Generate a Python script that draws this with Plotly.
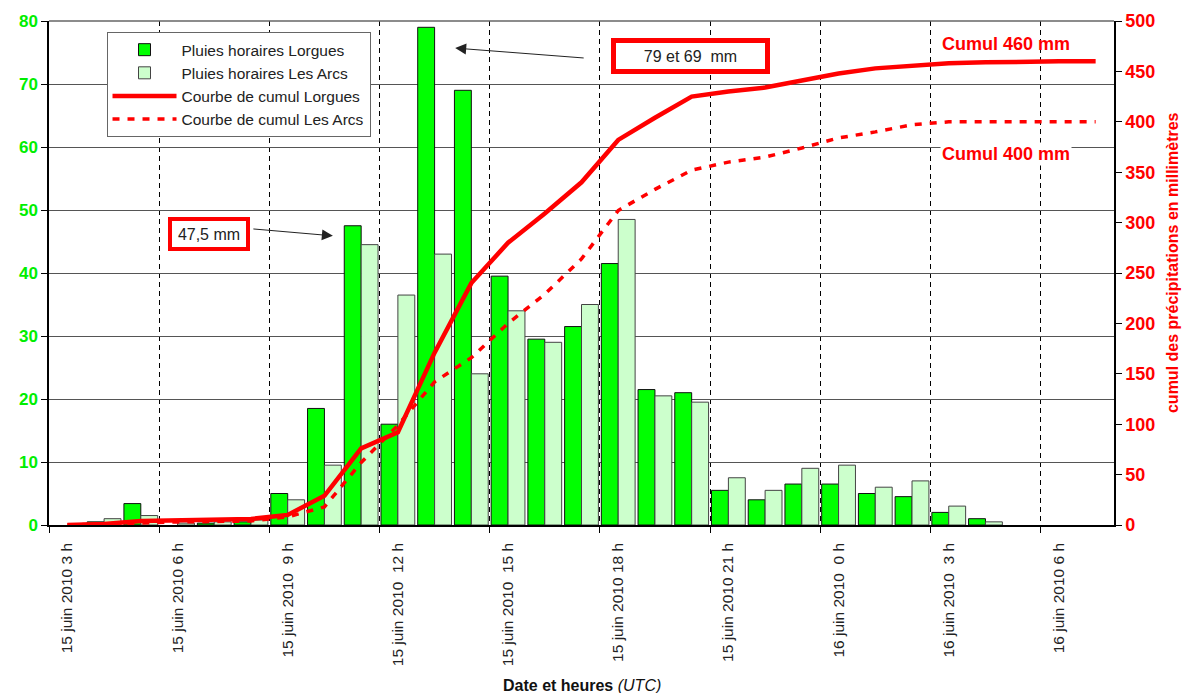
import plotly.graph_objects as go

# Hourly categories (15 juin 2010 3h -> 16 juin 2010 7h)
heures = ["15/06 03h", "15/06 04h", "15/06 05h", "15/06 06h", "15/06 07h", "15/06 08h",
          "15/06 09h", "15/06 10h", "15/06 11h", "15/06 12h", "15/06 13h", "15/06 14h",
          "15/06 15h", "15/06 16h", "15/06 17h", "15/06 18h", "15/06 19h", "15/06 20h",
          "15/06 21h", "15/06 22h", "15/06 23h", "16/06 00h", "16/06 01h", "16/06 02h",
          "16/06 03h", "16/06 04h", "16/06 05h", "16/06 06h", "16/06 07h"]

pluie_lorgues = [0, 0.5, 3.4, 0, 0.3, 0.5, 5, 18.5, 47.5, 16, 79, 69, 39.5, 29.5, 31.5,
                 41.5, 21.5, 21, 5.5, 4, 6.5, 6.5, 5, 4.5, 2, 1, 0, 0, 0]
pluie_arcs = [0, 1.0, 1.5, 0.3, 0.5, 0.8, 4, 9.5, 44.5, 36.5, 43, 24, 34, 29, 35,
              48.5, 20.5, 19.5, 7.5, 5.5, 9, 9.5, 6, 7, 3, 0.5, 0, 0, 0]

cumul_lorgues = [0, 1, 4, 4.5, 5, 6, 10, 29, 76, 92, 171, 240, 280, 309, 340,
                 382, 404, 425, 430, 434, 441, 448, 453, 456, 458, 459, 460, 460, 460]
cumul_arcs = [0, 1, 2.5, 3, 3.5, 4, 8, 18, 62, 99, 142, 166, 200, 229, 264,
              312, 333, 352, 360, 365, 374, 384, 390, 397, 400, 400, 400, 400, 400]

tick_pos = [0, 3, 6, 9, 12, 15, 18, 21, 24, 27]
tick_text = ["15 juin 2010 3 h", "15 juin 2010 6 h", "15 juin 2010\u00a0\u00a09 h",
             "15 juin 2010\u00a0\u00a012 h", "15 juin 2010\u00a0\u00a015 h", "15 juin 2010 18 h",
             "15 juin 2010 21 h", "16 juin 2010\u00a0\u00a00 h", "16 juin 2010\u00a0\u00a03 h",
             "16 juin 2010 6 h"]

x = list(range(len(heures)))
FONT = "Liberation Sans, Arial, sans-serif"


def no_zero(values):
    return [v if v > 0 else None for v in values]


fig = go.Figure()
fig.add_trace(go.Bar(x=x, y=no_zero(pluie_lorgues), name="Pluies horaires Lorgues",
                     marker=dict(color="#00FF00", line=dict(color="#111111", width=1))))
fig.add_trace(go.Bar(x=x, y=no_zero(pluie_arcs), name="Pluies horaires Les Arcs",
                     marker=dict(color="#CCFFCC", line=dict(color="#444444", width=1))))
fig.add_trace(go.Scatter(x=x, y=cumul_lorgues, name="Courbe de cumul Lorgues", yaxis="y2",
                         mode="lines", line=dict(color="#FF0000", width=4.5)))
fig.add_trace(go.Scatter(x=x, y=cumul_arcs, name="Courbe de cumul Les Arcs", yaxis="y2",
                         mode="lines", line=dict(color="#FF0000", width=3.5, dash="7px,8px")))

fig.update_layout(
    width=1182, height=685,
    margin=dict(l=41, r=76, t=13, b=168, autoexpand=False),
    paper_bgcolor="white", plot_bgcolor="white",
    font=dict(family=FONT, size=13, color="#222222"),
    barmode="group", bargap=0.08, bargroupgap=0,
    showlegend=True,
    legend=dict(x=0.054, y=0.978, xanchor="left", yanchor="top",
                bgcolor="white", bordercolor="#666666", borderwidth=1,
                font=dict(family=FONT, size=15.5, color="#222222"),
                itemwidth=64, tracegroupgap=0),
    xaxis=dict(range=[-0.5, 28.5], tickmode="array", tickvals=tick_pos, ticktext=tick_text,
               tickangle=-90, ticks="", showgrid=False, zeroline=False, automargin=False,
               showline=True, linecolor="black", linewidth=1.5,
               ticklabelstandoff=10,
               tickfont=dict(family=FONT, size=15.5, color="#222222"),
               minor=dict(tickmode="linear", tick0=-0.5, dtick=3, ticks="outside",
                          ticklen=6, tickcolor="black", tickwidth=1,
                          showgrid=True, gridcolor="black", gridwidth=1, griddash="5px,4px")),
    yaxis=dict(range=[0, 80], dtick=10, showgrid=True, gridcolor="#555555", gridwidth=1,
               zeroline=False, showline=True, linecolor="black", linewidth=1.5,
               automargin=False,
               ticks="outside", ticklen=6, tickcolor="black",
               tickfont=dict(family=FONT, size=17, color="#00EE00", weight="bold")),
    yaxis2=dict(range=[0, 500], dtick=50, overlaying="y", side="right", showgrid=False,
                zeroline=False, showline=True, linecolor="black", linewidth=1.5,
                automargin=False,
                ticks="outside", ticklen=6, tickcolor="black",
                tickfont=dict(family=FONT, size=18, color="#FF0000", weight="bold")),
)

# top frame line
fig.add_shape(type="line", xref="paper", yref="paper", x0=0, x1=1, y0=1, y1=1,
              line=dict(color="#666666", width=1.5))

annots = [
    # axis titles
    dict(text="<b>Date et heures</b> <i>(UTC)</i>", xref="paper", yref="paper",
         x=0.5, y=-0.3175, xanchor="center", yanchor="middle", showarrow=False,
         font=dict(size=16, color="#111111")),
    dict(text="<b>cumul des précipitations en millimètres</b>", xref="paper", yref="paper",
         x=1.0555, y=0.52, xanchor="center", yanchor="middle", textangle=-90, showarrow=False,
         font=dict(size=16, color="#FF0000")),
    # boxes
    dict(text="47,5 mm", x=3.86, y=46.2, xref="x", yref="y", showarrow=False,
         xanchor="center", yanchor="middle", width=70, height=22,
         bordercolor="#FF0000", borderwidth=4, borderpad=2, bgcolor="white",
         font=dict(size=16, color="#222222")),
    dict(text="79 et 69\u00a0\u00a0mm", x=16.97, y=74.4, xref="x", yref="y", showarrow=False,
         xanchor="center", yanchor="middle", width=145, height=22,
         bordercolor="#FF0000", borderwidth=5, borderpad=2, bgcolor="white",
         font=dict(size=16, color="#222222")),
    # arrows
    dict(text="", x=7.23, y=45.9, xref="x", yref="y", ax=-81, ay=-7,
         showarrow=True, arrowhead=2, arrowsize=2.2, arrowwidth=1, arrowcolor="#222222"),
    dict(text="", x=10.56, y=75.7, xref="x", yref="y", ax=130, ay=10,
         showarrow=True, arrowhead=2, arrowsize=2.2, arrowwidth=1, arrowcolor="#222222"),
    # cumul labels
    dict(text="<b>Cumul 460 mm</b>", x=25.55, y=76.3, xref="x", yref="y", showarrow=False,
         xanchor="center", yanchor="middle", font=dict(size=18, color="#FF0000")),
    dict(text="<b>Cumul 400 mm</b>", x=25.55, y=58.9, xref="x", yref="y", showarrow=False,
         xanchor="center", yanchor="middle", bgcolor="white",
         font=dict(size=18, color="#FF0000")),
]
for a in annots:
    fig.add_annotation(**a)

fig.write_html("out.html")
